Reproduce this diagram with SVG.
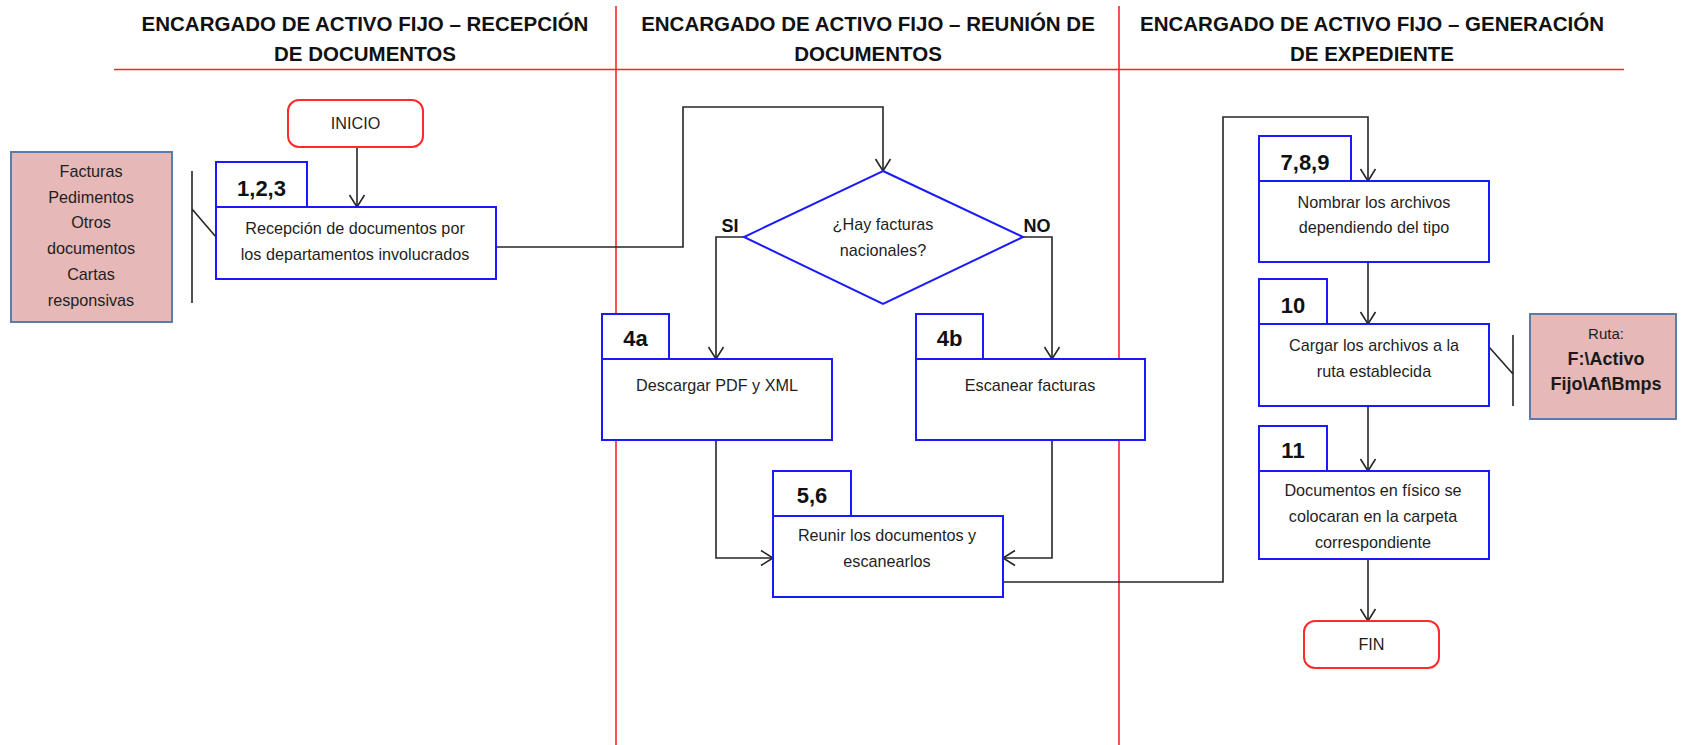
<svg xmlns="http://www.w3.org/2000/svg" width="1686" height="745" viewBox="0 0 1686 745">
  <style>
    .lane { stroke: #ff2424; stroke-width: 1.6; fill: none; }
    .title { font-family: "Liberation Sans", Arial, sans-serif; font-weight: bold; font-size: 20.5px; fill: #111; text-anchor: middle; }
    .box { fill: #ffffff; stroke: #1a1aff; stroke-width: 2; }
    .term { fill: #ffffff; stroke: #ff2a2a; stroke-width: 2; }
    .note { fill: #e6b8b8; stroke: #5b7bab; stroke-width: 2; }
    .txt { font-family: "Liberation Sans", Arial, sans-serif; font-size: 16.2px; fill: #1e1e1e; text-anchor: middle; }
    .num { font-family: "Liberation Sans", Arial, sans-serif; font-weight: bold; font-size: 22px; fill: #111; text-anchor: middle; }
    .lbl { font-family: "Liberation Sans", Arial, sans-serif; font-weight: bold; font-size: 18px; fill: #111; text-anchor: middle; }
    .path { font-family: "Liberation Sans", Arial, sans-serif; font-weight: bold; font-size: 18px; fill: #1a1a1a; text-anchor: middle; }
    .conn { stroke: #262626; stroke-width: 1.6; fill: none; }
  </style>
  <defs>
    <marker id="arrow" viewBox="-14 -9 16 18" markerWidth="16" markerHeight="18" refX="0" refY="0" orient="auto" markerUnits="userSpaceOnUse">
      <path d="M -12 -7.5 L 0 0 L -12 7.5" fill="none" stroke="#262626" stroke-width="1.6"/>
    </marker>
  </defs>

  <rect width="1686" height="745" fill="#ffffff"/>

  <!-- swimlane headers and dividers -->
  <g id="lanes">
    <line class="lane" x1="114" y1="69.5" x2="1624" y2="69.5"/>
    <line class="lane" x1="616" y1="6" x2="616" y2="745"/>
    <line class="lane" x1="1119" y1="6" x2="1119" y2="745"/>
    <text class="title" x="365" y="31">ENCARGADO DE ACTIVO FIJO – RECEPCIÓN</text>
    <text class="title" x="365" y="61">DE DOCUMENTOS</text>
    <text class="title" x="868" y="31">ENCARGADO DE ACTIVO FIJO – REUNIÓN DE</text>
    <text class="title" x="868" y="61">DOCUMENTOS</text>
    <text class="title" x="1372" y="31">ENCARGADO DE ACTIVO FIJO – GENERACIÓN</text>
    <text class="title" x="1372" y="61">DE EXPEDIENTE</text>
  </g>

  <!-- connectors -->
  <g id="connectors">
    <path class="conn" d="M 357 147 L 357 207" marker-end="url(#arrow)"/>
    <path class="conn" d="M 496 247 L 683 247 L 683 107 L 883 107 L 883 171" marker-end="url(#arrow)"/>
    <path class="conn" d="M 744 237 L 716 237 L 716 359" marker-end="url(#arrow)"/>
    <path class="conn" d="M 1023 237 L 1052 237 L 1052 359" marker-end="url(#arrow)"/>
    <path class="conn" d="M 716 440 L 716 558 L 773 558" marker-end="url(#arrow)"/>
    <path class="conn" d="M 1052 440 L 1052 558 L 1003 558" marker-end="url(#arrow)"/>
    <path class="conn" d="M 1003 582 L 1223 582 L 1223 117 L 1368 117 L 1368 181" marker-end="url(#arrow)"/>
    <path class="conn" d="M 1368 262 L 1368 324" marker-end="url(#arrow)"/>
    <path class="conn" d="M 1368 406 L 1368 471" marker-end="url(#arrow)"/>
    <path class="conn" d="M 1368 559 L 1368 621" marker-end="url(#arrow)"/>
    <!-- annotation brackets -->
    <path class="conn" d="M 192 171 L 192 303 M 192 209 L 216 237"/>
    <path class="conn" d="M 1513 335 L 1513 406 M 1513 374 L 1489 347"/>
  </g>

  <g id="inicio">
    <rect class="term" x="288" y="100" width="135" height="47" rx="11"/>
    <text class="txt" x="355.5" y="129">INICIO</text>
  </g>

  <g id="docs-in">
    <rect class="note" x="11" y="152" width="161" height="170"/>
    <text class="txt" x="91" y="177">Facturas</text>
    <text class="txt" x="91" y="203">Pedimentos</text>
    <text class="txt" x="91" y="228">Otros</text>
    <text class="txt" x="91" y="254">documentos</text>
    <text class="txt" x="91" y="280">Cartas</text>
    <text class="txt" x="91" y="306">responsivas</text>
  </g>

  <g id="step-1-2-3">
    <rect class="box" x="216" y="162" width="91" height="45"/>
    <text class="num" x="261.5" y="196">1,2,3</text>
    <rect class="box" x="216" y="207" width="280" height="72"/>
    <text class="txt" x="355" y="234">Recepción de documentos por</text>
    <text class="txt" x="355" y="260">los departamentos involucrados</text>
  </g>

  <g id="decision">
    <polygon points="883,171 1023,237 883,304 744,237" fill="#ffffff" stroke="#1a1aff" stroke-width="2"/>
    <text class="txt" x="883" y="230">¿Hay facturas</text>
    <text class="txt" x="883" y="256">nacionales?</text>
    <text class="lbl" x="730" y="232">SI</text>
    <text class="lbl" x="1037" y="232">NO</text>
  </g>

  <g id="step-4a">
    <rect class="box" x="602" y="314" width="67" height="45"/>
    <text class="num" x="635.5" y="346">4a</text>
    <rect class="box" x="602" y="359" width="230" height="81"/>
    <text class="txt" x="717" y="391">Descargar PDF y XML</text>
  </g>

  <g id="step-4b">
    <rect class="box" x="916" y="314" width="67" height="45"/>
    <text class="num" x="949.5" y="346">4b</text>
    <rect class="box" x="916" y="359" width="229" height="81"/>
    <text class="txt" x="1030" y="391">Escanear facturas</text>
  </g>

  <g id="step-5-6">
    <rect class="box" x="773" y="471" width="78" height="45"/>
    <text class="num" x="812" y="503">5,6</text>
    <rect class="box" x="773" y="516" width="230" height="81"/>
    <text class="txt" x="887" y="541">Reunir los documentos y</text>
    <text class="txt" x="887" y="567">escanearlos</text>
  </g>

  <g id="step-7-8-9">
    <rect class="box" x="1259" y="136" width="92" height="45"/>
    <text class="num" x="1305" y="170">7,8,9</text>
    <rect class="box" x="1259" y="181" width="230" height="81"/>
    <text class="txt" x="1374" y="208">Nombrar los archivos</text>
    <text class="txt" x="1374" y="233">dependiendo del tipo</text>
  </g>

  <g id="step-10">
    <rect class="box" x="1259" y="279" width="68" height="45"/>
    <text class="num" x="1293" y="313">10</text>
    <rect class="box" x="1259" y="324" width="230" height="82"/>
    <text class="txt" x="1374" y="351">Cargar los archivos a la</text>
    <text class="txt" x="1374" y="377">ruta establecida</text>
  </g>

  <g id="ruta">
    <rect class="note" x="1530" y="314" width="146" height="105"/>
    <text class="txt" x="1606" y="339" style="font-size:15px">Ruta:</text>
    <text class="path" x="1606" y="365">F:\Activo</text>
    <text class="path" x="1606" y="390">Fijo\Af\Bmps</text>
  </g>

  <g id="step-11">
    <rect class="box" x="1259" y="426" width="68" height="45"/>
    <text class="num" x="1293" y="458">11</text>
    <rect class="box" x="1259" y="471" width="230" height="88"/>
    <text class="txt" x="1373" y="496">Documentos en físico se</text>
    <text class="txt" x="1373" y="522">colocaran en la carpeta</text>
    <text class="txt" x="1373" y="548">correspondiente</text>
  </g>

  <g id="fin">
    <rect class="term" x="1304" y="621" width="135" height="47" rx="11"/>
    <text class="txt" x="1371.5" y="650">FIN</text>
  </g>
</svg>
